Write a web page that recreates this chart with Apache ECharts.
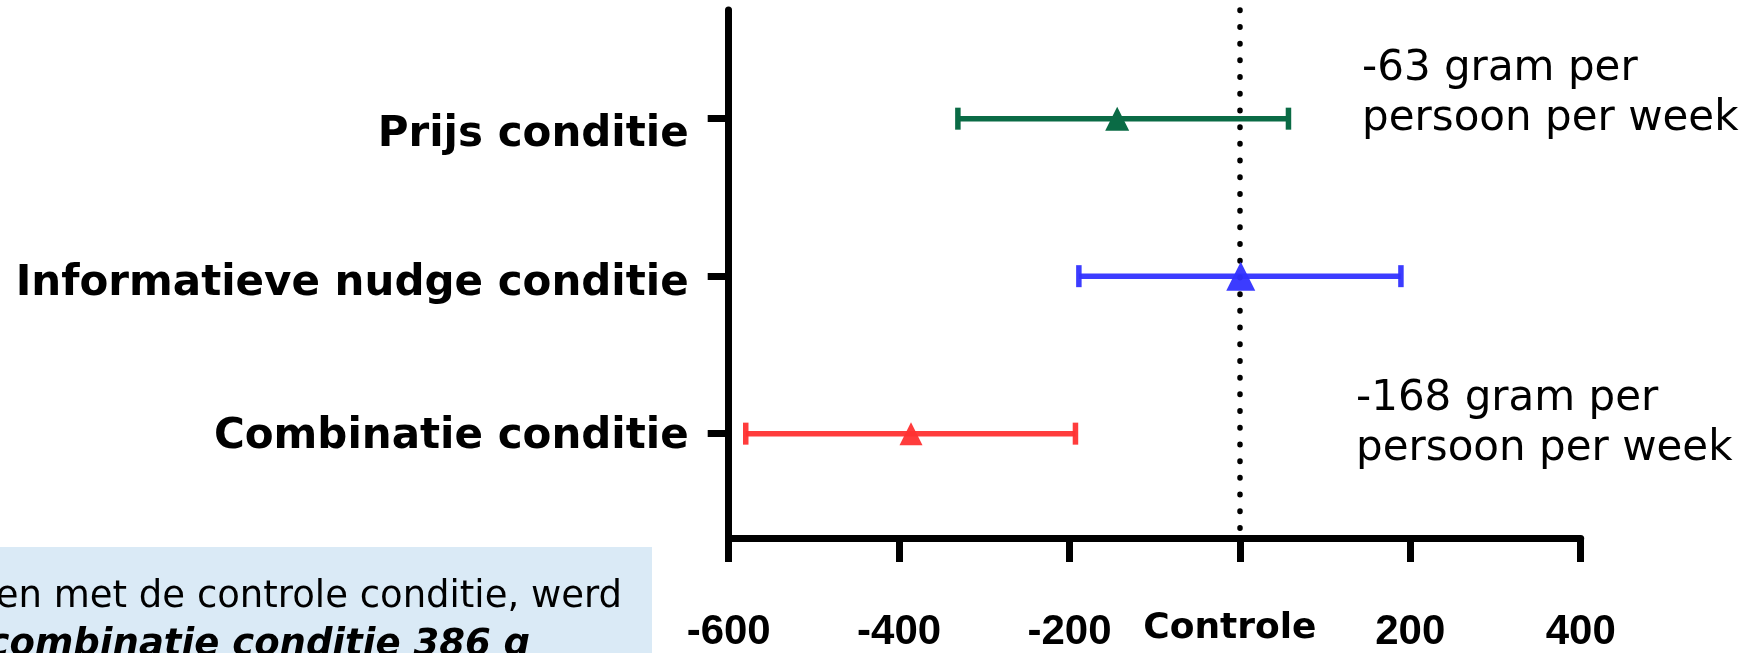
<!DOCTYPE html>
<html>
<head>
<meta charset="utf-8">
<script src="https://cdn.jsdelivr.net/npm/echarts@6/dist/echarts.min.js"></script>
<style>
  html, body { margin: 0; padding: 0; background: #fff; }
  #chart { width: 1764px; height: 653px; }
</style>
</head>
<body>
<div id="chart"></div>
<script>
// condities (van boven naar beneden)
const categories = ['Prijs conditie', 'Informatieve nudge conditie', 'Combinatie conditie']
// verschil t.o.v. controle (gram), met betrouwbaarheidsinterval
const lower = [-331, -189, -580]
const mean = [-144, 1, -386]
const upper = [57, 189, -193]
const colors = ['#0a6b45', 'rgba(50,50,255,0.95)', 'rgba(255,50,50,0.95)']
const markerSizes = [24, 29, 23]
const xTicks = [-600, -400, -200, 0, 200, 400]
// verschuiving van de categorielabels (handmatig geplaatst in origineel)
const labelShift = [16, 8, 3]

const chart = echarts.init(document.getElementById('chart'))

const errorData = categories.map((c, i) => ({
  value: [i, lower[i], mean[i], upper[i]],
  itemStyle: { color: colors[i] }
}))
const pointData = categories.map((c, i) => ({
  value: [mean[i], i],
  symbolSize: [markerSizes[i], markerSizes[i]],
  itemStyle: { color: colors[i], opacity: 1 }
}))

const rich = {}
categories.forEach((c, i) => {
  const s = labelShift[i]
  rich['c' + i] = {
    fontFamily: 'DejaVu Sans',
    fontWeight: 'bold',
    fontSize: 42,
    color: '#000',
    padding: s >= 0 ? [2 * s, 0, 0, 0] : [0, 0, -2 * s, 0]
  }
})

const option = {
  animation: false,
  backgroundColor: '#fff',
  grid: { left: 728.7, right: 183.3, top: 10, bottom: 106.5 },
  xAxis: {
    type: 'value',
    min: -600,
    max: 400,
    interval: 200,
    splitLine: { show: false },
    axisLine: { onZero: false, lineStyle: { color: '#000', width: 7 } },
    axisTick: { show: true, length: 24, lineStyle: { color: '#000', width: 7 } },
    axisLabel: {
      margin: 73,
      formatter: (v) => (v === 0 ? '{z|Controle}' : '{n|' + v + '}'),
      rich: {
        n: { fontFamily: 'Liberation Sans', fontWeight: 'bold', fontSize: 42, color: '#000' },
        z: { fontFamily: 'DejaVu Sans', fontWeight: 'bold', fontSize: 36, color: '#000', padding: [0, 20, 14, 0] }
      }
    }
  },
  yAxis: {
    type: 'value',
    inverse: true,
    min: -0.69,
    max: 2.6625,
    splitLine: { show: false },
    axisLine: { onZero: false, lineStyle: { color: '#000', width: 7 } },
    axisTick: { show: true, length: 21, customValues: [0, 1, 2], lineStyle: { color: '#000', width: 7 } },
    axisLabel: {
      margin: 40,
      customValues: [0, 1, 2],
      formatter: (v) => '{c' + Math.round(v) + '|' + categories[Math.round(v)] + '}',
      rich: rich
    }
  },
  series: [
    {
      type: 'custom',
      z: 2,
      renderItem: (params, api) => {
        const y = api.value(0)
        const p1 = api.coord([api.value(1), y])
        const p2 = api.coord([api.value(3), y])
        const color = api.visual('color')
        const st = { stroke: color, lineWidth: 5.5 }
        const h = 11
        return {
          type: 'group',
          children: [
            { type: 'line', shape: { x1: p1[0], y1: p1[1], x2: p2[0], y2: p2[1] }, style: st },
            { type: 'line', shape: { x1: p1[0], y1: p1[1] - h, x2: p1[0], y2: p1[1] + h }, style: st },
            { type: 'line', shape: { x1: p2[0], y1: p2[1] - h, x2: p2[0], y2: p2[1] + h }, style: st }
          ]
        }
      },
      data: errorData
    },
    {
      type: 'scatter',
      z: 4,
      symbol: 'triangle',
      data: pointData,
      markLine: {
        silent: true,
        z: 3,
        symbol: ['none', 'none'],
        label: { show: false },
        lineStyle: { color: '#000', width: 5.5, type: [0.5, 16.2], cap: 'round' },
        data: [{ xAxis: 0 }]
      }
    }
  ],
  graphic: [
    {
      type: 'text',
      left: 1362,
      top: 44,
      style: {
        text: '-63 gram per\npersoon per week',
        font: '42px "DejaVu Sans"',
        lineHeight: 50,
        fill: '#000'
      }
    },
    {
      type: 'text',
      left: 1356,
      top: 374,
      style: {
        text: '-168 gram per\npersoon per week',
        font: '42px "DejaVu Sans"',
        lineHeight: 50,
        fill: '#000'
      }
    },
    {
      type: 'rect',
      shape: { x: 0, y: 547, width: 652, height: 106 },
      style: { fill: '#daeaf6' }
    },
    {
      type: 'text',
      x: 622,
      y: 616,
      style: {
        text: 'en met de controle conditie, werd',
        font: '37px "DejaVu Sans"',
        textAlign: 'right',
        textVerticalAlign: 'bottom',
        fill: '#000'
      }
    },
    {
      type: 'text',
      x: 530,
      y: 664,
      style: {
        text: 'combinatie conditie 386 g',
        font: 'italic bold 37px "DejaVu Sans"',
        textAlign: 'right',
        textVerticalAlign: 'bottom',
        fill: '#000'
      }
    }
  ]
}

chart.setOption(option)
window.addEventListener('resize', () => chart.resize())
</script>
</body>
</html>
